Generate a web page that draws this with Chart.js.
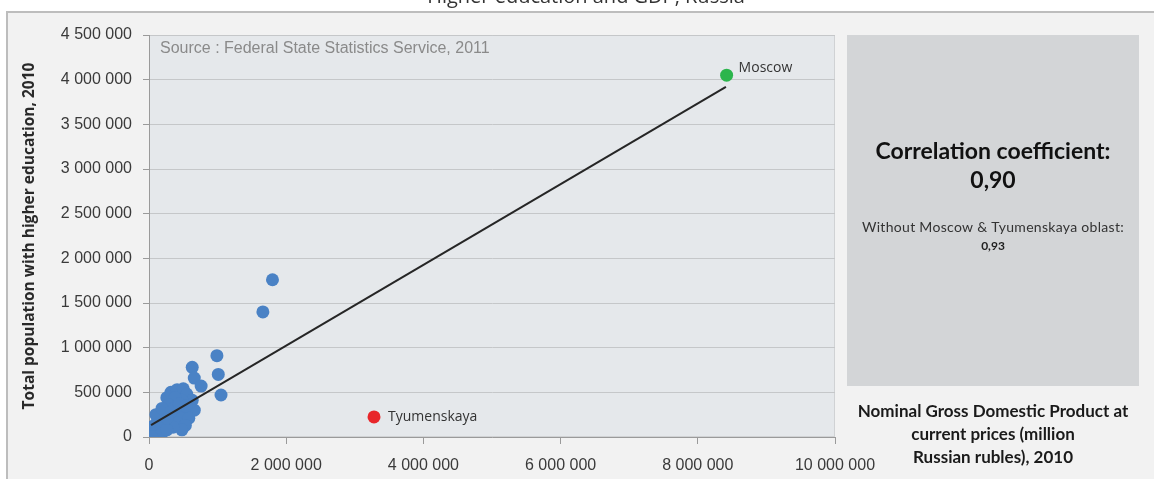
<!DOCTYPE html>
<html>
<head>
<meta charset="utf-8">
<script src="https://cdn.jsdelivr.net/npm/chart.js@4.4.1/dist/chart.umd.min.js"></script>
<style>
  html, body { margin: 0; padding: 0; background: #ffffff; overflow: hidden; }
  #wrap { width: 1154px; height: 479px; position: relative; }
</style>
</head>
<body>
<div id="wrap"><canvas id="c" width="1154" height="479"></canvas></div>
<script>
// Gross regional product (million rubles) and population with higher education, by region, 2010
const regionGdp = [
  260000, 320000, 410000, 500000, 550000, 630000, 660000, 580000, 480000, 380000,
  290000, 390000, 510000, 230000, 360000, 470000, 580000, 180000, 290000, 410000,
  530000, 480000, 350000, 220000, 120000, 150000, 60000, 10000, 70000, 0,
  120000, 180000, 40000, 260000, 100000, 190000, 320000, 440000, 540000, 260000,
  630000, 660000, 760000, 990000, 1010000, 1050000, 1660000, 1800000
];
const regionPop = [
  440000, 500000, 530000, 540000, 480000, 410000, 300000, 360000, 410000, 440000,
  360000, 340000, 280000, 280000, 250000, 210000, 210000, 210000, 190000, 160000,
  130000, 80000, 110000, 130000, 170000, 100000, 120000, 80000, 40000, 10000,
  0, 30000, 0, 80000, 250000, 320000, 280000, 370000, 350000, 210000,
  780000, 660000, 570000, 910000, 700000, 470000, 1400000, 1760000
];
const moscowPoint = { x: 8420000, y: 4050000 };
const tyumenPoint = { x: 3280000, y: 225000 };
// Fitted trend line end points
const trendGdp = [30000, 8410000];
const trendPop = [134000, 3920000];

const xMax = 10000000, xStep = 2000000;
const yMax = 4500000, yStep = 500000;

const groupDigits = v => String(Math.round(v)).replace(/\B(?=(\d{3})+(?!\d))/g, ' ');

const regionPoints = regionGdp.map((g, i) => ({ x: g, y: regionPop[i] }));
const trendPoints = trendGdp.map((g, i) => ({ x: g, y: trendPop[i] }));

const backdrop = {
  id: 'backdrop',
  beforeDraw(chart) {
    const { ctx, chartArea: a } = chart;
    ctx.save();
    ctx.fillStyle = '#ffffff';
    ctx.fillRect(0, 0, chart.width, chart.height);
    // outer panel
    ctx.fillStyle = '#f2f2f2';
    ctx.fillRect(7, 12, chart.width - 7, chart.height - 12);
    ctx.strokeStyle = '#bdbdbd';
    ctx.lineWidth = 2;
    ctx.beginPath();
    ctx.moveTo(7, chart.height);
    ctx.lineTo(7, 12);
    ctx.lineTo(chart.width, 12);
    ctx.stroke();
    // plot area
    ctx.fillStyle = '#e5e8eb';
    ctx.fillRect(a.left, a.top, a.right - a.left, a.bottom - a.top);
    ctx.strokeStyle = '#d0d2d4';
    ctx.lineWidth = 1;
    ctx.strokeRect(a.left + 0.5, a.top + 0.5, a.right - a.left - 1, a.bottom - a.top - 1);
    // correlation box
    ctx.fillStyle = '#d3d5d7';
    ctx.fillRect(847, 35, 292, 351);
    // heading, mostly cut off by the top edge
    ctx.fillStyle = '#333333';
    ctx.font = '20px "Open Sans"';
    ctx.textAlign = 'center';
    ctx.textBaseline = 'alphabetic';
    ctx.fillText('Higher education and GDP, Russia', 586, 3);
    ctx.restore();
  }
};

const notes = {
  id: 'notes',
  afterDraw(chart) {
    const { ctx, chartArea: a } = chart;
    ctx.save();
    ctx.textBaseline = 'middle';
    // source line
    ctx.textAlign = 'left';
    ctx.fillStyle = '#8a8a8a';
    ctx.font = '16px "Liberation Sans"';
    ctx.fillText('Source : Federal State Statistics Service, 2011', a.left + 11, 49);
    // correlation box text
    const cx = 993;
    ctx.textAlign = 'center';
    ctx.fillStyle = '#111111';
    ctx.font = 'bold 23px Lato';
    ctx.fillText('Correlation coefficient:', cx, 152);
    ctx.fillText('0,90', cx, 181);
    ctx.fillStyle = '#333333';
    ctx.font = '14px Lato';
    ctx.letterSpacing = '0.3px';
    ctx.fillText('Without Moscow & Tyumenskaya oblast:', cx, 227);
    ctx.letterSpacing = '0px';
    ctx.fillStyle = '#222222';
    ctx.font = 'bold 12px Lato';
    ctx.fillText('0,93', cx, 246);
    // horizontal axis title
    ctx.fillStyle = '#1a1a1a';
    ctx.font = 'bold 17px Lato';
    ['Nominal Gross Domestic Product at', 'current prices (million', 'Russian rubles), 2010']
      .forEach((t, i) => ctx.fillText(t, cx, 412 + i * 23));
    ctx.restore();
  }
};

const pointNames = {
  id: 'pointNames',
  afterDatasetsDraw(chart) {
    const { ctx } = chart;
    ctx.save();
    ctx.fillStyle = '#333333';
    ctx.textAlign = 'left';
    ctx.textBaseline = 'middle';
    chart.data.datasets.forEach((ds, i) => {
      if (!ds.pointName) return;
      const el = chart.getDatasetMeta(i).data[0];
      ctx.font = ds.pointNameFont;
      ctx.fillText(ds.pointName, el.x + ds.pointNameDx, el.y + ds.pointNameDy);
    });
    ctx.restore();
  }
};

new Chart(document.getElementById('c'), {
  type: 'scatter',
  data: {
    datasets: [
      {
        type: 'line',
        data: trendPoints,
        borderColor: '#262626',
        borderWidth: 2,
        pointRadius: 0,
        fill: false,
        order: 0
      },
      {
        data: regionPoints,
        backgroundColor: '#4a82c5',
        borderWidth: 0,
        pointRadius: 6.5,
        order: 1
      },
      {
        data: [moscowPoint],
        backgroundColor: '#2bb54c',
        borderWidth: 0,
        pointRadius: 6.5,
        pointName: 'Moscow',
        pointNameFont: '14px "Open Sans"',
        pointNameDx: 12,
        pointNameDy: -7,
        order: 1
      },
      {
        data: [tyumenPoint],
        backgroundColor: '#e8262a',
        borderWidth: 0,
        pointRadius: 6.5,
        pointName: 'Tyumenskaya',
        pointNameFont: '14px "Open Sans"',
        pointNameDx: 14,
        pointNameDy: 0,
        order: 1
      }
    ]
  },
  options: {
    responsive: false,
    animation: false,
    devicePixelRatio: 1,
    layout: { padding: { left: 0, right: 319, top: 35, bottom: 0 } },
    plugins: { legend: { display: false }, tooltip: { enabled: false } },
    scales: {
      x: {
        type: 'linear',
        min: 0,
        max: xMax,
        afterFit(s) { s.height = 42; },
        ticks: {
          stepSize: xStep,
          padding: 12,
          color: '#3a3a3a',
          font: { family: 'Liberation Sans', size: 16 },
          callback: v => groupDigits(v),
          maxRotation: 0
        },
        grid: { drawOnChartArea: false, drawTicks: true, tickLength: 7, color: '#9a9a9a' },
        border: { display: true, color: '#9a9a9a' }
      },
      y: {
        type: 'linear',
        min: 0,
        max: yMax,
        afterFit(s) { s.width = 149; },
        ticks: {
          stepSize: yStep,
          padding: 11,
          color: '#3a3a3a',
          font: { family: 'Liberation Sans', size: 16 },
          callback: v => groupDigits(v)
        },
        grid: { color: '#c5c7c9', tickColor: '#9a9a9a', tickLength: 6 },
        border: { display: true, color: '#9a9a9a' },
        title: {
          display: true,
          text: 'Total population with higher education, 2010',
          color: '#2a2a2a',
          font: { family: 'Open Sans', weight: 'bold', size: 15.5 },
          padding: { top: 20, bottom: 0 }
        }
      }
    }
  },
  plugins: [backdrop, notes, pointNames]
});
</script>
</body>
</html>
